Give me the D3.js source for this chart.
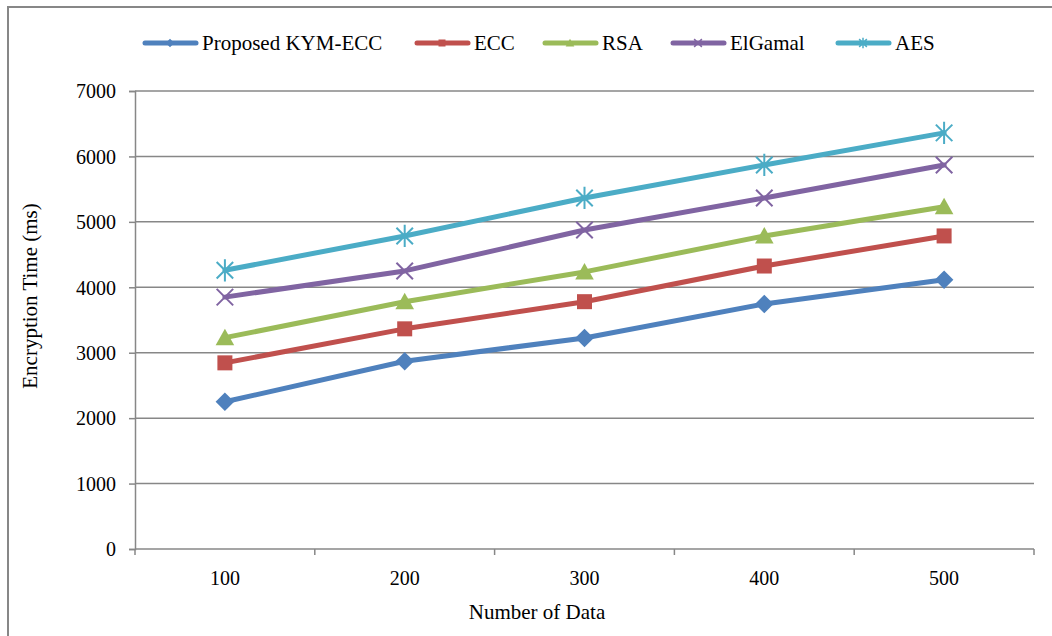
<!DOCTYPE html>
<html><head><meta charset="utf-8">
<script src="https://cdn.jsdelivr.net/npm/d3@7"></script>
<style>
html,body{margin:0;padding:0;background:#fff;}
svg text{font-family:"Liberation Serif","Times New Roman",serif;fill:#000;}
</style></head>
<body>
<svg id="c" width="1052" height="636" font-family="Liberation Serif"></svg>
<script>
const categories = ["100","200","300","400","500"];
const seriesNames = ["Proposed KYM-ECC","ECC","RSA","ElGamal","AES"];
const kymEcc = [2250, 2870, 3225, 3745, 4115];
const ecc = [2845, 3365, 3780, 4325, 4785];
const rsa = [3230, 3780, 4235, 4785, 5230];
const elgamal = [3850, 4250, 4875, 5365, 5870];
const aes = [4260, 4785, 5365, 5870, 6360];
const yTicks = [0,1000,2000,3000,4000,5000,6000,7000];
const colors = ["#4F81BD","#C0504D","#9BBB59","#8064A2","#4BACC6"];
const markers = ["diamond","square","triangle","x","asterisk"];
const seriesValues = [kymEcc, ecc, rsa, elgamal, aes];

const svg = d3.select("#c");
const L = 135, R = 1034, T = 91, B = 549;
const x = d3.scaleBand().domain(categories).range([L, R]).paddingInner(0).paddingOuter(0);
const y = d3.scaleLinear().domain([0, 7000]).range([B, T]);
const grid = "#878787";

svg.append("rect").attr("x",8).attr("y",7).attr("width",1100).attr("height",700)
  .attr("fill","none").attr("stroke",grid).attr("stroke-width",2);

svg.append("g").selectAll("line").data(yTicks.filter(d=>d>0)).join("line")
  .attr("x1",L).attr("x2",R).attr("y1",d=>y(d)).attr("y2",d=>y(d))
  .attr("stroke",grid).attr("stroke-width",1.5);

const ya = svg.append("g").attr("transform",`translate(${L},0)`)
  .call(d3.axisLeft(y).tickValues(yTicks).tickSize(6).tickPadding(13).tickFormat(d3.format("d")));
ya.attr("font-family",null).attr("font-size",null);
ya.select(".domain").attr("stroke",grid).attr("stroke-width",1.5);
ya.selectAll(".tick line").attr("stroke",grid).attr("stroke-width",1.5);
ya.selectAll("text").attr("font-size",20).attr("dy","0.34em");

const xg = svg.append("g");
xg.append("line").attr("x1",L).attr("x2",R).attr("y1",B).attr("y2",B).attr("stroke",grid).attr("stroke-width",1.5);
const edges = categories.map(c=>x(c)).concat([x(categories[categories.length-1])+x.bandwidth()]);
xg.selectAll("line.t").data(edges).join("line").attr("class","t")
  .attr("x1",d=>d).attr("x2",d=>d).attr("y1",B).attr("y2",B+6).attr("stroke",grid).attr("stroke-width",1.5);
xg.selectAll("text").data(categories).join("text")
  .attr("x",d=>x(d)+x.bandwidth()/2).attr("y",B+29).attr("dy","0.34em")
  .attr("text-anchor","middle").attr("font-size",20).text(d=>d);

svg.append("text").attr("transform","translate(30,296) rotate(-90)")
  .attr("text-anchor","middle").attr("dy","0.34em").attr("font-size",21).text("Encryption Time (ms)");
svg.append("text").attr("x",537).attr("y",612).attr("dy","0.34em")
  .attr("text-anchor","middle").attr("font-size",21).text("Number of Data");

function drawMarker(g, type, cx, cy, color, s){
  if(type==="diamond"){
    g.append("path").attr("d",`M${cx},${cy-s*0.62}L${cx+s*0.62},${cy}L${cx},${cy+s*0.62}L${cx-s*0.62},${cy}Z`).attr("fill",color);
  } else if(type==="square"){
    g.append("rect").attr("x",cx-s/2).attr("y",cy-s/2).attr("width",s).attr("height",s).attr("fill",color);
  } else if(type==="triangle"){
    const h = s*1.0;
    g.append("path").attr("d",`M${cx},${cy-h*0.6}L${cx+s*0.62},${cy+h*0.5}L${cx-s*0.62},${cy+h*0.5}Z`).attr("fill",color);
  } else if(type==="x" || type==="asterisk"){
    const r = s*0.55;
    g.append("path").attr("d",`M${cx-r},${cy-r}L${cx+r},${cy+r}M${cx-r},${cy+r}L${cx+r},${cy-r}` + (type==="asterisk"?`M${cx},${cy-r*1.35}L${cx},${cy+r*1.35}`:""))
      .attr("stroke",color).attr("stroke-width",s>10?2:1.5).attr("fill","none");
  }
}

const line = d3.line().x((d,i)=>x(categories[i])+x.bandwidth()/2).y(d=>y(d));
seriesValues.forEach((vals,k)=>{
  const g = svg.append("g");
  g.append("path").datum(vals).attr("d",line).attr("fill","none").attr("stroke",colors[k])
    .attr("stroke-width",5).attr("stroke-linejoin","round").attr("stroke-linecap","round");
  vals.forEach((v,i)=>drawMarker(g, markers[k], x(categories[i])+x.bandwidth()/2, y(v), colors[k], 15));
});

const legStarts = [143, 415, 543, 671, 836];
const ly = 43;
seriesNames.forEach((n,k)=>{
  const g = svg.append("g");
  const x0 = legStarts[k];
  g.append("line").attr("x1",x0+2).attr("x2",x0+53).attr("y1",ly).attr("y2",ly)
    .attr("stroke",colors[k]).attr("stroke-width",5).attr("stroke-linecap","round");
  drawMarker(g, markers[k], x0+27, ly, colors[k], 7);
  g.append("text").attr("x",x0+59).attr("y",ly).attr("dy","0.34em").attr("font-size",21).text(n);
});
</script>
</body></html>
